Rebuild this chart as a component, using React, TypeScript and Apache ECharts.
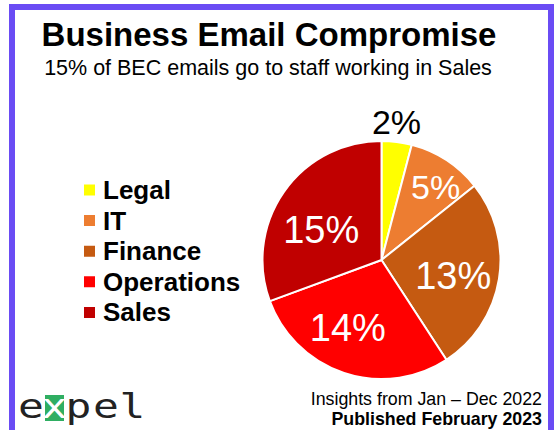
import React, { useEffect, useRef } from 'react';
import * as echarts from 'echarts';

const categories = ['Legal', 'IT', 'Finance', 'Operations', 'Sales'];
const values = [2, 5, 13, 14, 15];
const titleText = 'Business Email Compromise';
const subtitleText = '15% of BEC emails go to staff working in Sales';
const footerLine1 = 'Insights from Jan – Dec 2022';
const footerLine2 = 'Published February 2023';

const sliceColors = ['#FFFF00', '#ED7D31', '#C55A11', '#FF0000', '#C00000'];
const labelColors = ['#000000', '#FFFFFF', '#FFFFFF', '#FFFFFF', '#FFFFFF'];
const labelSizes = [34, 34, 38, 38, 38];
const labelShift = [
  [7, -76],
  [20, -21],
  [10, 6],
  [-14, 9],
  [-9, 6],
];

const FONT = '"Liberation Sans", Arial, Helvetica, sans-serif';

export default function App() {
  const ref = useRef<HTMLDivElement>(null);
  useEffect(() => {
    if (!ref.current) return;
    const chart = echarts.init(ref.current, null, { renderer: 'svg' });
    const logoLetters = [
      { t: 'e', x: 31, c: '#222222' },
      { t: 'x', x: 54.5, c: '#FFFFFF' },
      { t: 'p', x: 78.5, c: '#222222' },
      { t: 'e', x: 106, c: '#222222' },
      { t: 'l', x: 132.5, c: '#222222' },
    ];
    chart.setOption({
      animation: false,
      backgroundColor: '#FFFFFF',
      legend: {
        orient: 'vertical',
        left: 82,
        top: 177,
        padding: 0,
        icon: 'rect',
        itemWidth: 13,
        itemHeight: 13,
        itemGap: 4.6,
        selectedMode: false,
        data: categories,
        textStyle: {
          fontFamily: FONT,
          fontSize: 26,
          fontWeight: 'bold',
          color: '#000000',
          lineHeight: 26,
          padding: [0, 0, 0, 2],
        },
      },
      graphic: [
        {
          type: 'rect',
          shape: { x: 12, y: 7, width: 539, height: 500 },
          style: { fill: 'none', stroke: '#6A4CF4', lineWidth: 6 },
          silent: true,
        },
        {
          type: 'text',
          x: 269,
          y: 34,
          style: {
            text: titleText,
            font: `bold 33px ${FONT}`,
            fill: '#000000',
            textAlign: 'center',
            textVerticalAlign: 'middle',
          },
        },
        {
          type: 'text',
          x: 268,
          y: 68,
          style: {
            text: subtitleText,
            font: `21.5px ${FONT}`,
            fill: '#000000',
            textAlign: 'center',
            textVerticalAlign: 'middle',
          },
        },
        {
          type: 'text',
          x: 542,
          y: 399,
          style: {
            text: footerLine1,
            font: `17.8px ${FONT}`,
            fill: '#000000',
            textAlign: 'right',
            textVerticalAlign: 'middle',
          },
        },
        {
          type: 'text',
          x: 542,
          y: 419,
          style: {
            text: footerLine2,
            font: `bold 17.8px ${FONT}`,
            fill: '#000000',
            textAlign: 'right',
            textVerticalAlign: 'middle',
          },
        },
        {
          type: 'rect',
          shape: { x: 45, y: 395, width: 19, height: 26 },
          style: { fill: '#2FAE62' },
        },
        ...logoLetters.map((l) => ({
          type: 'text',
          x: l.x,
          y: 406,
          scaleX: 1.3,
          style: {
            text: l.t,
            font: `33px "DejaVu Sans Mono", monospace`,
            fill: l.c,
            textAlign: 'center',
            textVerticalAlign: 'middle',
          },
        })),
      ],
      series: [
        {
          type: 'pie',
          center: [381.5, 260],
          radius: 119,
          startAngle: 90,
          clockwise: true,
          silent: true,
          emphasis: { disabled: true },
          itemStyle: { borderColor: '#FFFFFF', borderWidth: 2 },
          label: {
            show: true,
            position: 'inside',
            formatter: '{c}%',
            fontFamily: FONT,
          },
          labelLine: { show: false },
          labelLayout: (p: any) => ({
            dx: labelShift[p.dataIndex][0],
            dy: labelShift[p.dataIndex][1],
          }),
          data: categories.map((name, i) => ({
            name,
            value: values[i],
            itemStyle: { color: sliceColors[i] },
            label: { color: labelColors[i], fontSize: labelSizes[i] },
          })),
        },
      ],
    });
    return () => chart.dispose();
  }, []);
  return (
    <div
      ref={ref}
      style={{ position: 'absolute', left: 0, top: 0, width: 554, height: 430 }}
    />
  );
}
